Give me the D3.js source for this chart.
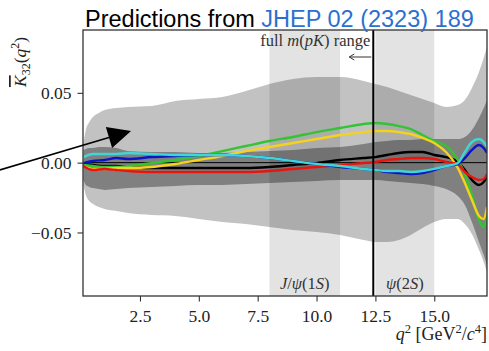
<!DOCTYPE html>
<html>
<head>
<meta charset="utf-8">
<script src="https://cdn.jsdelivr.net/npm/d3@7"></script>
<style>
  html, body { margin: 0; padding: 0; background: #fff; }
  svg { display: block; }
</style>
</head>
<body>
<svg id="chart" width="489" height="351"></svg>
<script>
// q^2 grid for the predicted curves (GeV^2/c^4)
const lineQ2 = [0.1, 0.5, 1, 1.5, 2, 3, 4, 5, 6, 7, 8, 9, 10, 11, 12, 12.5, 13, 13.5, 14, 14.5, 15, 15.5, 16, 16.3, 16.6, 16.9, 17.1, 17.24];

// K32 predictions, one array per model curve
const kBlack  = [-0.0010, -0.0017, -0.0024, -0.0024, -0.0031, -0.0038, -0.0038, -0.0038, -0.0038, -0.0038, -0.0031, -0.0017, -0.0003, 0.0019, 0.0033, 0.0040, 0.0055, 0.0069, 0.0076, 0.0076, 0.0055, 0.0040, 0.0005, -0.0053, -0.0124, -0.0160, -0.0139, -0.0103];
const kGreen  = [-0.0017, -0.0024, -0.0031, -0.0031, -0.0024, -0.0003, 0.0019, 0.0048, 0.0083, 0.0119, 0.0155, 0.0184, 0.0219, 0.0248, 0.0277, 0.0284, 0.0277, 0.0262, 0.0241, 0.0198, 0.0155, 0.0119, 0.0019, -0.0081, -0.0232, -0.0411, -0.0461, -0.0375];
const kYellow = [-0.0024, -0.0045, -0.0045, -0.0038, -0.0038, -0.0031, -0.0010, 0.0019, 0.0048, 0.0083, 0.0112, 0.0141, 0.0169, 0.0198, 0.0219, 0.0227, 0.0227, 0.0219, 0.0205, 0.0177, 0.0141, 0.0076, -0.0038, -0.0146, -0.0267, -0.0382, -0.0404, -0.0318];
const kRed    = [-0.0024, -0.0053, -0.0045, -0.0053, -0.0060, -0.0067, -0.0067, -0.0067, -0.0067, -0.0067, -0.0060, -0.0045, -0.0031, -0.0017, -0.0003, 0.0005, 0.0019, 0.0026, 0.0033, 0.0033, 0.0026, 0.0005, -0.0010, -0.0067, -0.0103, -0.0124, -0.0117, -0.0081];
const kBlue   = [-0.0003, 0.0012, 0.0019, 0.0033, 0.0026, 0.0040, 0.0048, 0.0055, 0.0055, 0.0048, 0.0033, 0.0012, -0.0010, -0.0031, -0.0045, -0.0053, -0.0067, -0.0074, -0.0081, -0.0074, -0.0053, -0.0024, -0.0010, 0.0033, 0.0091, 0.0126, 0.0105, 0.0069];
const kCyan   = [0.0040, 0.0062, 0.0062, 0.0062, 0.0069, 0.0062, 0.0055, 0.0055, 0.0055, 0.0048, 0.0033, 0.0012, -0.0010, -0.0024, -0.0045, -0.0053, -0.0060, -0.0060, -0.0067, -0.0060, -0.0045, -0.0024, -0.0003, 0.0076, 0.0148, 0.0169, 0.0148, 0.0112];

// q^2 grid for the uncertainty bands
const bandQ2 = [0.1, 0.2, 0.35, 0.5, 0.75, 1, 1.5, 2, 3, 4, 5, 6, 7, 8, 9, 10, 11, 12, 12.5, 13, 13.5, 14, 14.5, 15, 15.5, 16, 16.3, 16.6, 16.9, 17.1, 17.24];
// full-range (outer) band edges
const outerHi = [0.0141, 0.0234, 0.0291, 0.0327, 0.0356, 0.0377, 0.0391, 0.0399, 0.0406, 0.0441, 0.0456, 0.0470, 0.0513, 0.0563, 0.0599, 0.0613, 0.0613, 0.0585, 0.0563, 0.0542, 0.0513, 0.0484, 0.0456, 0.0427, 0.0399, 0.0413, 0.0449, 0.0535, 0.0649, 0.0749, 0.0828];
const outerLo = [-0.0160, -0.0232, -0.0275, -0.0296, -0.0318, -0.0332, -0.0346, -0.0361, -0.0375, -0.0382, -0.0403, -0.0425, -0.0439, -0.0461, -0.0482, -0.0497, -0.0518, -0.0554, -0.0568, -0.0568, -0.0554, -0.0518, -0.0468, -0.0425, -0.0403, -0.0403, -0.0439, -0.0511, -0.0626, -0.0711, -0.0783];
// inner band edges
const innerHi = [0.0091, 0.0098, 0.0105, 0.0105, 0.0112, 0.0112, 0.0105, 0.0083, 0.0076, 0.0076, 0.0069, 0.0069, 0.0076, 0.0083, 0.0091, 0.0105, 0.0112, 0.0134, 0.0148, 0.0155, 0.0162, 0.0162, 0.0169, 0.0169, 0.0169, 0.0169, 0.0184, 0.0234, 0.0320, 0.0391, 0.0449];
const innerLo = [-0.0124, -0.0160, -0.0174, -0.0182, -0.0189, -0.0196, -0.0189, -0.0182, -0.0174, -0.0167, -0.0160, -0.0160, -0.0153, -0.0146, -0.0139, -0.0131, -0.0124, -0.0124, -0.0124, -0.0131, -0.0139, -0.0146, -0.0153, -0.0167, -0.0189, -0.0239, -0.0303, -0.0425, -0.0568, -0.0661, -0.0733];

// charmonium vetoes and the m(pK) cut
const resonances = [
  { name: "J/psi", from: 8.0, to: 11.0 },
  { name: "psi2S", from: 12.5, to: 15.0 }
];
const mpkCut = 12.41;

// axis ticks
const xMajor = [2.5, 5.0, 7.5, 10.0, 12.5, 15.0];
const yMajor = [-0.05, 0.00, 0.05];

const W = 489, H = 351;
const m = { left: 83, right: 2, top: 30, bottom: 55 };
const svg = d3.select("#chart");

const x = d3.scaleLinear().domain([0.08, 17.24]).range([m.left, W - m.right]);
const y = d3.scaleLinear().domain([-0.0955, 0.095]).range([H - m.bottom, m.top]);

svg.append("defs").append("clipPath").attr("id", "plot")
  .append("rect")
  .attr("x", x.range()[0]).attr("y", y.range()[1])
  .attr("width", x.range()[1] - x.range()[0])
  .attr("height", y.range()[0] - y.range()[1]);

const plot = svg.append("g").attr("clip-path", "url(#plot)");

const band = (lo, hi) => d3.area()
  .x((d, i) => x(bandQ2[i]))
  .y0((d, i) => y(lo[i]))
  .y1((d, i) => y(hi[i]))
  .curve(d3.curveMonotoneX)(bandQ2);

plot.append("path").attr("d", band(outerLo, outerHi)).attr("fill", "#c2c2c2");
plot.append("path").attr("d", band(innerLo, innerHi)).attr("fill", "#808080");

// veto windows shade whatever lies beneath them
plot.selectAll("rect.veto").data(resonances).join("rect")
  .attr("class", "veto")
  .attr("x", d => x(d.from)).attr("width", d => x(d.to) - x(d.from))
  .attr("y", y.range()[1]).attr("height", y.range()[0] - y.range()[1])
  .attr("fill", "#000").attr("fill-opacity", 0.11);

// zero reference
plot.append("line")
  .attr("x1", x.range()[0]).attr("x2", x.range()[1])
  .attr("y1", y(0)).attr("y2", y(0))
  .attr("stroke", "#000").attr("stroke-width", 1);

const curves = [
  { v: kBlack,  c: "#000000" },
  { v: kGreen,  c: "#33c433" },
  { v: kYellow, c: "#f5d21c" },
  { v: kRed,    c: "#e8150f" },
  { v: kBlue,   c: "#0a14c8" },
  { v: kCyan,   c: "#3fd6d6" }
];
const line = d3.line()
  .x((d, i) => x(lineQ2[i]))
  .y(d => y(d))
  .curve(d3.curveMonotoneX);

plot.selectAll("path.model").data(curves).join("path")
  .attr("class", "model")
  .attr("d", d => line(d.v))
  .attr("fill", "none")
  .attr("stroke", d => d.c)
  .attr("stroke-width", 2.4)
  .attr("stroke-linejoin", "round");

// m(pK) boundary
plot.append("line")
  .attr("x1", x(mpkCut)).attr("x2", x(mpkCut))
  .attr("y1", y.range()[1]).attr("y2", y.range()[0])
  .attr("stroke", "#000").attr("stroke-width", 2);

// axes
const tickFont = "'Liberation Serif', 'Times New Roman', serif";
const minorX = d3.range(0.5, 17.01, 0.5).filter(v => !xMajor.some(t => Math.abs(t - v) < 1e-6));
const minorY = d3.range(-9, 10).map(v => v / 100).filter(v => !yMajor.some(t => Math.abs(t - v) < 1e-6));

const gx = svg.append("g").attr("transform", `translate(0,${y.range()[0]})`);
gx.call(d3.axisBottom(x).tickValues(minorX).tickSize(3.5).tickFormat(""));
gx.call(d3.axisBottom(x).tickValues(xMajor).tickSize(5.5).tickPadding(8).tickFormat(d3.format(".1f")));

const gy = svg.append("g").attr("transform", `translate(${x.range()[0]},0)`);
gy.call(d3.axisLeft(y).tickValues(minorY).tickSize(3.5).tickFormat(""));
gy.call(d3.axisLeft(y).tickValues(yMajor).tickSize(5.5).tickPadding(6).tickFormat(d3.format(".2f")));

[gx, gy].forEach(g => {
  g.selectAll(".domain").remove();
  g.selectAll(".tick line").attr("stroke", "#333").attr("stroke-width", 1.1);
  g.selectAll(".tick text").attr("font-family", tickFont).attr("font-size", 17.5).attr("fill", "#222");
});

// frame
svg.append("rect")
  .attr("x", x.range()[0]).attr("y", y.range()[1])
  .attr("width", x.range()[1] - x.range()[0])
  .attr("height", y.range()[0] - y.range()[1])
  .attr("fill", "none").attr("stroke", "#333").attr("stroke-width", 1.3);

// resonance labels
const resLabel = svg.append("g").attr("font-family", tickFont).attr("font-size", 16.5).attr("fill", "#333").attr("text-anchor", "middle");
const jpsi = resLabel.append("text").attr("x", x((resonances[0].from + resonances[0].to) / 2)).attr("y", 289);
jpsi.append("tspan").attr("font-style", "italic").text("J");
jpsi.append("tspan").text("/");
jpsi.append("tspan").attr("font-style", "italic").text("ψ");
jpsi.append("tspan").text("(1");
jpsi.append("tspan").attr("font-style", "italic").text("S");
jpsi.append("tspan").text(")");
const psi2 = resLabel.append("text").attr("x", x((resonances[1].from + resonances[1].to) / 2)).attr("y", 289);
psi2.append("tspan").attr("font-style", "italic").text("ψ");
psi2.append("tspan").text("(2");
psi2.append("tspan").attr("font-style", "italic").text("S");
psi2.append("tspan").text(")");

// m(pK) range note with arrow pointing to lower q^2
const note = svg.append("text")
  .attr("x", x(mpkCut) - 3).attr("y", 46)
  .attr("text-anchor", "end")
  .attr("font-family", tickFont).attr("font-size", 16.5).attr("fill", "#333");
note.append("tspan").text("full ");
note.append("tspan").attr("font-style", "italic").text("m");
note.append("tspan").text("(");
note.append("tspan").attr("font-style", "italic").text("pK");
note.append("tspan").text(") range");

const ax0 = x(mpkCut) - 2, ax1 = x(mpkCut) - 24, ay = 57;
svg.append("path")
  .attr("d", `M${ax0},${ay}H${ax1}M${ax1 + 5},${ay - 3}L${ax1},${ay}L${ax1 + 5},${ay + 3}`)
  .attr("fill", "none").attr("stroke", "#333").attr("stroke-width", 1);

// pointer annotation in data coordinates
const arrowTail = [-3.45, -0.0052];
const arrowTip = [2.12, 0.0227];
(function () {
  const tx = x(arrowTip[0]), ty = y(arrowTip[1]);
  const sx = x(arrowTail[0]), sy = y(arrowTail[1]);
  const len = Math.hypot(tx - sx, ty - sy);
  const ux = (tx - sx) / len, uy = (ty - sy) / len;
  const headL = 23, headW = 11;
  const bx = tx - ux * headL, by = ty - uy * headL;
  svg.append("line").attr("x1", sx).attr("y1", sy).attr("x2", bx).attr("y2", by)
    .attr("stroke", "#000").attr("stroke-width", 1.5);
  svg.append("path")
    .attr("d", `M${tx},${ty}L${bx - uy * headW},${by + ux * headW}L${bx + uy * headW},${by - ux * headW}Z`)
    .attr("fill", "#000");
})();

// axis titles
const yTitle = svg.append("text")
  .attr("transform", "translate(26,62) rotate(-90)")
  .attr("text-anchor", "middle")
  .attr("font-family", tickFont).attr("font-size", 17.5).attr("fill", "#222");
yTitle.append("tspan").attr("font-style", "italic").attr("text-decoration", "overline").text("K");
yTitle.append("tspan").attr("font-size", 12).attr("dy", 4).text("32");
yTitle.append("tspan").attr("dy", -4).text("(");
yTitle.append("tspan").attr("font-style", "italic").text("q");
yTitle.append("tspan").attr("font-size", 12).attr("dy", -7).text("2");
yTitle.append("tspan").attr("dy", 7).text(")");

const xTitle = svg.append("text")
  .attr("x", W - 2).attr("y", 340)
  .attr("text-anchor", "end")
  .attr("font-family", tickFont).attr("font-size", 18).attr("fill", "#222");
xTitle.append("tspan").attr("font-style", "italic").text("q");
xTitle.append("tspan").attr("font-size", 12.5).attr("dy", -7).text("2");
xTitle.append("tspan").attr("dy", 7).text(" [GeV");
xTitle.append("tspan").attr("font-size", 12.5).attr("dy", -7).text("2");
xTitle.append("tspan").attr("dy", 7).text("/");
xTitle.append("tspan").attr("font-style", "italic").text("c");
xTitle.append("tspan").attr("font-size", 12.5).attr("dy", -7).text("4");
xTitle.append("tspan").attr("dy", 7).text("]");

// heading
const title = svg.append("text")
  .attr("x", 85).attr("y", 26.5)
  .attr("font-family", "'Liberation Sans', Arial, sans-serif").attr("font-size", 23.5);
title.append("tspan").attr("fill", "#000").text("Predictions from ");
title.append("tspan").attr("fill", "#2b6fd1").text("JHEP 02 (2323) 189");
</script>
</body>
</html>
